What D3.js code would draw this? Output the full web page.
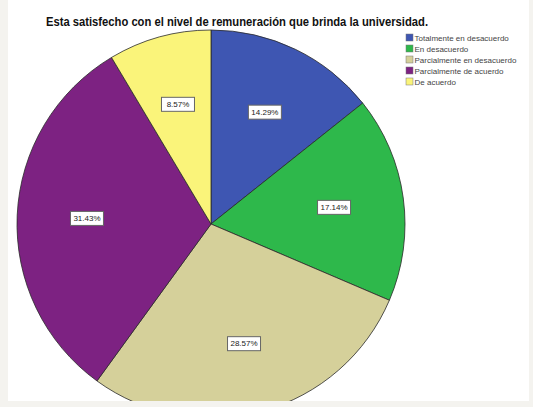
<!DOCTYPE html>
<html>
  <head>
    <meta charset="utf-8" />
    <script src="https://d3js.org/d3.v7.min.js"></script>
    <style>
      body { margin: 0; background: #f4f3ef; }
    </style>
  </head>
  <body>
    <div id="my_dataviz"></div>
    <script>
      // chart data
      var categories = [
        "Totalmente en desacuerdo",
        "En desacuerdo",
        "Parcialmente en desacuerdo",
        "Parcialmente de acuerdo",
        "De acuerdo"
      ];
      var percents = [14.29, 17.14, 28.57, 31.43, 8.57];
      var colors = ["#3e56b2", "#2eb84b", "#d5d09a", "#7d2282", "#faf47a"];
      var title = "Esta satisfecho con el nivel de remuneración que brinda la universidad.";

      var W = 533, H = 407;
      var cx = 211, cy = 224, radius = 194;

      var svg = d3.select("#my_dataviz")
        .append("svg")
        .attr("width", W)
        .attr("height", H);

      // light frame + white panel
      svg.append("rect").attr("width", W).attr("height", H).attr("fill", "#f4f3ef");
      svg.append("clipPath").attr("id", "panel")
        .append("rect").attr("x", 8).attr("y", 0).attr("width", 521).attr("height", 401);
      var panel = svg.append("g").attr("clip-path", "url(#panel)");
      panel.append("rect").attr("x", 8).attr("y", 0).attr("width", 521).attr("height", 401).attr("fill", "#ffffff");

      // title
      panel.append("text")
        .attr("x", 237)
        .attr("y", 26)
        .attr("text-anchor", "middle")
        .attr("textLength", 382)
        .attr("lengthAdjust", "spacingAndGlyphs")
        .style("font-family", "Liberation Sans, Arial, sans-serif")
        .style("font-weight", "bold")
        .style("font-size", "12px")
        .attr("fill", "#111")
        .text(title);

      var data = categories.map(function (c, i) {
        return { name: c, value: percents[i], color: colors[i] };
      });

      var pie = d3.pie().sort(null).value(function (d) { return d.value; });
      var arc = d3.arc().innerRadius(0).outerRadius(radius);
      var labelArc = d3.arc().innerRadius(radius * 0.64).outerRadius(radius * 0.64);

      var g = panel.append("g").attr("transform", "translate(" + cx + "," + cy + ")");

      g.selectAll("path.slice")
        .data(pie(data))
        .enter()
        .append("path")
        .attr("class", "slice")
        .attr("d", arc)
        .attr("fill", function (d) { return d.data.color; })
        .attr("stroke", "#2a2a2a")
        .attr("stroke-width", 0.8);

      // value labels in small boxes
      var lab = g.selectAll("g.lab")
        .data(pie(data))
        .enter()
        .append("g")
        .attr("class", "lab")
        .attr("transform", function (d) {
          var p = labelArc.centroid(d);
          return "translate(" + p[0] + "," + p[1] + ")";
        });

      lab.append("rect")
        .attr("x", -16.5)
        .attr("y", -7)
        .attr("width", 33)
        .attr("height", 14)
        .attr("fill", "#ffffff")
        .attr("stroke", "#666")
        .attr("stroke-width", 1);

      lab.append("text")
        .attr("text-anchor", "middle")
        .attr("dy", "0.35em")
        .style("font-family", "Liberation Sans, Arial, sans-serif")
        .style("font-size", "8px")
        .attr("fill", "#222")
        .text(function (d) { return d.data.value.toFixed(2) + "%"; });

      // legend
      var legend = panel.append("g").attr("transform", "translate(406,34)");
      var rows = legend.selectAll("g")
        .data(data)
        .enter()
        .append("g")
        .attr("transform", function (d, i) { return "translate(0," + i * 11 + ")"; });

      rows.append("rect")
        .attr("width", 7)
        .attr("height", 7)
        .attr("fill", function (d) { return d.color; })
        .attr("stroke", "#777")
        .attr("stroke-width", 0.5);

      rows.append("text")
        .attr("x", 8.5)
        .attr("y", 6.5)
        .style("font-family", "Liberation Sans, Arial, sans-serif")
        .style("font-size", "8px")
        .attr("fill", "#444")
        .text(function (d) { return d.name; });
    </script>
  </body>
</html>
